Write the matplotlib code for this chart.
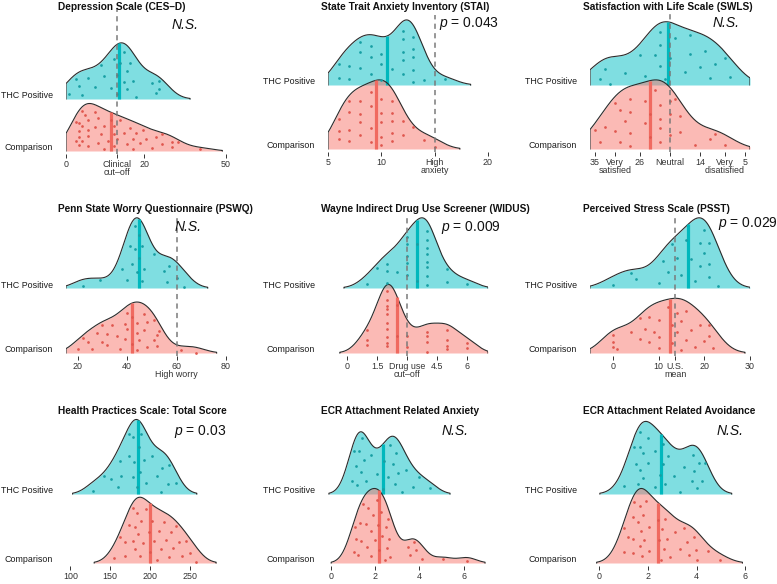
import numpy as np
import matplotlib
matplotlib.use('Agg')
import matplotlib.pyplot as plt
from matplotlib.transforms import ScaledTranslation

plt.rcParams['font.family'] = ['Liberation Sans', 'DejaVu Sans']
plt.rcParams['mathtext.fontset'] = 'custom'
plt.rcParams['mathtext.rm'] = 'Liberation Sans'
plt.rcParams['mathtext.it'] = 'Liberation Sans:italic'

# ---------------- data ----------------
groups = ["THC Positive", "Comparison"]

titles = ["Depression Scale (CES\u2013D)", "State Trait Anxiety Inventory (STAI)",
          "Satisfaction with Life Scale (SWLS)", "Penn State Worry Questionnaire (PSWQ)",
          "Wayne Indirect Drug Use Screener (WIDUS)", "Perceived Stress Scale (PSST)",
          "Health Practices Scale: Total Score", "ECR Attachment Related Anxiety",
          "ECR Attachment Related Avoidance"]

stats_text = ["N.S.", "$p$ = 0.043", "N.S.", "N.S.", "$p$ = 0.009", "$p$ = 0.029",
              "$p$ = 0.03", "N.S.", "N.S."]

cesd_thc = [1, 3, 4, 5, 7, 9, 11, 12, 14, 15, 16, 16, 17, 18, 18, 19, 19, 20, 21, 22, 27, 28, 29, 29]
cesd_comp = [3, 3, 4, 4, 4, 4, 5, 5, 5, 6, 7, 7, 7, 7, 9, 9, 10, 10, 11, 12, 12, 13, 14, 15, 15, 15,
             16, 17, 18, 19, 20, 21, 21, 22, 23, 24, 25, 27, 28, 30, 30, 33, 33, 35, 42]

stai_thc = [6, 6, 7, 7, 8, 8, 8, 9, 9, 9, 10, 10, 10, 11, 12, 12, 12, 12, 12, 13, 13, 13, 13, 13, 14, 16]
stai_comp = [6, 6, 6, 7, 7, 7, 7, 8, 8, 8, 8, 9, 9, 9, 9, 10, 10, 10, 10, 10, 11, 11, 11, 11, 11,
             12, 12, 13, 14, 15]

swls_thc = [34, 33, 32, 29, 26, 25, 23, 22, 22, 22, 21, 20, 19, 17, 16, 16, 14, 13, 12, 11, 9, 8]
swls_comp = [35, 34, 33, 31, 31, 30, 30, 29, 28, 28, 28, 28, 25, 25, 24, 24, 23, 22, 22, 22, 22,
             20, 20, 20, 19, 18, 18, 15, 12, 11, 9]

pswq_thc = [22, 29, 38, 40, 41, 42, 43, 43, 44, 45, 45, 46, 46, 47, 51, 55, 56, 57, 60, 63]
pswq_comp = [20, 22, 24, 26, 28, 30, 30, 32, 32, 34, 36, 37, 39, 39, 40, 40, 42, 42, 44, 44, 44,
             45, 47, 47, 48, 48, 51, 51, 52, 52, 53, 62, 68]

widus_thc = [1, 1.5, 2, 2, 2, 2.5, 3, 3, 3, 3, 3, 3.5, 3.5, 4, 4, 4, 4, 4, 4, 4, 4, 5, 5, 6]
widus_comp = [1, 1, 1, 2, 2, 2, 2, 2, 2, 2, 2, 2, 2, 2.5, 2.5, 3, 3, 4, 4, 4, 4, 5, 5, 5, 5, 6, 6]

psst_thc = [0, 4, 5, 10, 11, 12, 13, 14, 15, 16, 17, 18, 19, 19, 20, 20, 21, 21, 21, 23]
psst_comp = [0, 0, 0, 1, 4, 6, 6, 7, 8, 8, 9, 10, 10, 10, 12, 13, 13, 14, 14, 15, 15, 16, 16, 17,
             18, 19, 20, 21, 21, 22]

hps_thc = [128, 142, 151, 160, 162, 163, 173, 174, 178, 179, 180, 184, 186, 187, 189, 192, 195,
           202, 208, 214, 215, 222, 223, 232]
hps_comp = [155, 162, 168, 169, 174, 179, 179, 181, 181, 183, 185, 187, 189, 191, 195, 198, 200,
            202, 205, 208, 211, 214, 217, 220, 223, 226, 229, 232, 236, 240, 245, 250, 258]

ecranx_thc = [0.95, 1.05, 1.15, 1.2, 1.3, 1.35, 1.4, 1.5, 1.6, 1.8, 2.1, 2.35, 2.4, 2.6, 2.7,
              2.8, 2.9, 2.95, 3.05, 3.2, 3.4, 3.7, 4.0, 4.5]
ecranx_comp = [1.04, 1.09, 1.16, 1.24, 1.31, 1.39, 1.47, 1.59, 1.62, 1.69, 1.8, 1.81, 1.92, 1.99,
               2.07, 2.15, 2.19, 2.25, 2.3, 2.45, 2.49, 2.55, 2.6, 2.65, 2.7, 3.51, 3.58, 3.76,
               3.85, 4.11, 5.09, 6.15]

ecravo_thc = [1.02, 1.43, 1.5, 1.6, 1.65, 1.65, 1.68, 1.79, 1.81, 1.98, 2.0, 2.29, 2.29, 2.5, 2.6,
              2.6, 2.7, 2.84, 3.09, 3.32, 3.49, 3.8, 3.87, 3.91, 4.0, 4.08, 4.24, 4.33]
ecravo_comp = [0.99, 1.02, 1.19, 1.37, 1.4, 1.4, 1.43, 1.57, 1.65, 1.68, 1.7, 1.74, 1.79, 1.84,
               1.92, 2.02, 2.06, 2.43, 2.47, 2.53, 2.57, 2.66, 2.7, 2.8, 2.91, 3.12, 3.32, 3.5,
               3.6, 3.7, 3.91, 3.98, 4.0, 4.49, 4.97]

ref_values = [16, 15, 20, 60, 3, 13.7, None, None, None]

tick_values = [[0, 16, 24.5, 50], [5, 10, 15, 20], [35, 31, 26, 20, 14, 9, 5], [20, 40, 60, 80],
               [0, 1.5, 3, 4.5, 6], [0, 10, 13.7, 20, 30], [100, 150, 200, 250], [0, 2, 4, 6],
               [0, 2, 4, 6]]
tick_labels = [["0", "Clinical\ncut\u2013off", "20", "50"],
               ["5", "10", "High\nanxiety", "20"],
               ["35", "Very", "26", "Neutral", "14", "Very", "5"],
               ["20", "40", "60\nHigh worry", "80"],
               ["0", "1.5", "Drug use\ncut\u2013off", "4.5", "6"],
               ["0", "10", "U.S.\nmean", "20", "30"],
               ["100", "150", "200", "250"], ["0", "2", "4", "6"], ["0", "2", "4", "6"]]
# second-line words under the SWLS "Very" ticks
swls_sub_values = [31, 9]
swls_sub_labels = ["satisfied", "disatisfied"]

series = [(cesd_thc, cesd_comp), (stai_thc, stai_comp), (swls_thc, swls_comp),
          (pswq_thc, pswq_comp), (widus_thc, widus_comp), (psst_thc, psst_comp),
          (hps_thc, hps_comp), (ecranx_thc, ecranx_comp), (ecravo_thc, ecravo_comp)]

# ---------------- layout (pixels) ----------------
W, H = 777, 584
xlims = [(0, 50), (5, 20), (36, 4), (15.3, 80), (-0.97, 7.05), (-5, 30), (94.5, 295),
         (-0.12, 7.1), (-0.39, 6.2)]
col_left = [66, 328, 590]
panel_w = 160
# (comparison baseline, THC baseline, top)
rows_y = [(151, 99, 8), (149, 85, 15), (149, 85, 8),
          (353, 288, 217), (353, 288, 217), (353, 288, 217),
          (563, 494, 418), (563, 494, 418), (563, 494, 418)]
title_x = [58, 321, 583]
title_y = [7, 209, 411]
stat_pos = [(185, 25, 'center'), (469, 24, 'center'), (726, 23, 'center'),
            (188, 227, 'center'), (471, 227, 'center'), (718, 223, 'left'),
            (200, 431, 'center'), (455, 431, 'center'), (730, 431, 'center')]

fills = ['#00BFC4', '#F8766D']
pt_cols = ['#179FA4', '#E0574E']
med_cols = ['#00B8BD', '#F06A60']
SCALE = 1.08
REL_MIN = 0.01


def nrd0(x):
    x = np.asarray(x, float)
    sd = x.std(ddof=1)
    q75, q25 = np.percentile(x, [75, 25])
    lo = min(sd, (q75 - q25) / 1.34)
    if lo <= 0:
        lo = sd
    return 0.9 * lo * len(x) ** -0.2


def kde(xs, data, bw):
    xs = np.atleast_1d(np.asarray(xs, float))
    d = np.asarray(data, float)
    z = (xs[:, None] - d[None, :]) / bw
    return np.exp(-0.5 * z * z).sum(1) / (len(d) * bw * np.sqrt(2 * np.pi))


fig = plt.figure(figsize=(W / 100, H / 100), dpi=100)

for i in range(9):
    thc, comp = series[i]
    L = col_left[i % 3]
    b1, b2, top = rows_y[i]
    sp = b1 - b2
    bottom = b1 + 3
    ax = fig.add_axes([L / W, 1 - bottom / H, panel_w / W, (bottom - top) / H])
    ax.patch.set_visible(False)
    ax.set_xlim(xlims[i])
    ax.set_ylim(1 - 3 / sp, 1 + (b1 - top) / sp)
    for s in ax.spines.values():
        s.set_visible(False)
    ax.set_yticks([])

    bw = np.mean([nrd0(thc), nrd0(comp)])
    allx = np.concatenate([thc, comp])
    lo = max(allx.min() - 3 * bw, min(xlims[i]))
    hi = min(allx.max() + 3 * bw, max(xlims[i]))
    grid = np.linspace(lo, hi, 700)
    dens = [kde(grid, g, bw) for g in (thc, comp)]
    dmax = max(d.max() for d in dens)

    for gi, (data, base) in enumerate(((thc, 2), (comp, 1))):
        h = dens[gi] / dmax * SCALE
        keep = np.where(h >= REL_MIN * SCALE)[0]
        gx = grid[keep[0]:keep[-1] + 1]
        gh = h[keep[0]:keep[-1] + 1]
        ax.fill_between(gx, base, base + gh, color=fills[gi], alpha=0.5, lw=0)
        ox = np.concatenate([[gx[0]], gx, [gx[-1]]])
        oy = np.concatenate([[base], base + gh, [base]])
        ax.plot(ox, oy, color='#2b2b2b', lw=0.8)
        med = np.median(data)
        hm = kde(med, data, bw)[0] / dmax * SCALE
        ax.plot([med, med], [base, base + hm], color=med_cols[gi], lw=2.3,
                solid_capstyle='butt')
        d = np.sort(np.asarray(data, float))
        ph = kde(d, data, bw) / dmax * SCALE
        u = ((np.arange(len(d)) * 0.618034 + 0.27) % 1.0) * 0.88 + 0.04
        ax.scatter(d, base + u * ph, s=3.8, color=pt_cols[gi], linewidths=0, zorder=5)

    if ref_values[i] is not None:
        ax.axvline(ref_values[i], color='#7a7a7a', lw=1.1, dashes=(3.4, 2.8), zorder=8)

    ax.set_xticks(tick_values[i])
    ax.set_xticklabels(tick_labels[i])
    ax.tick_params(axis='x', length=2.6, width=0.7, color='#333333', pad=1.5,
                   labelsize=6.4, labelcolor='#333333')
    for lab in ax.get_xticklabels():
        lab.set_linespacing(0.95)

    if i == 2:
        sub_off = ScaledTranslation(0, -19 / 100, fig.dpi_scale_trans)
        for v, t in zip(swls_sub_values, swls_sub_labels):
            ax.text(v, 0, t, transform=ax.get_xaxis_transform() + sub_off,
                    ha='center', va='center', fontsize=6.4, color='#333333')

    off = ScaledTranslation(-13 / 100, 3 / 100, fig.dpi_scale_trans)
    for gname, base in ((groups[0], 2), (groups[1], 1)):
        ax.text(0, base, gname, transform=ax.get_yaxis_transform() + off,
                ha='right', va='center', fontsize=6.4, color='#1a1a1a')

    fig.text(title_x[i % 3] / W, 1 - title_y[i // 3] / H, titles[i], fontsize=7.3,
             fontweight='bold', ha='left', va='center', color='#111111')
    sx, sy, sha = stat_pos[i]
    if stats_text[i] == "N.S.":
        fig.text(sx / W, 1 - sy / H, stats_text[i], fontsize=10, style='italic',
                 ha=sha, va='center', color='#111111')
    else:
        fig.text(sx / W, 1 - sy / H, stats_text[i], fontsize=10, ha=sha, va='center',
                 color='#111111')

fig.savefig('out.png', dpi=100)
